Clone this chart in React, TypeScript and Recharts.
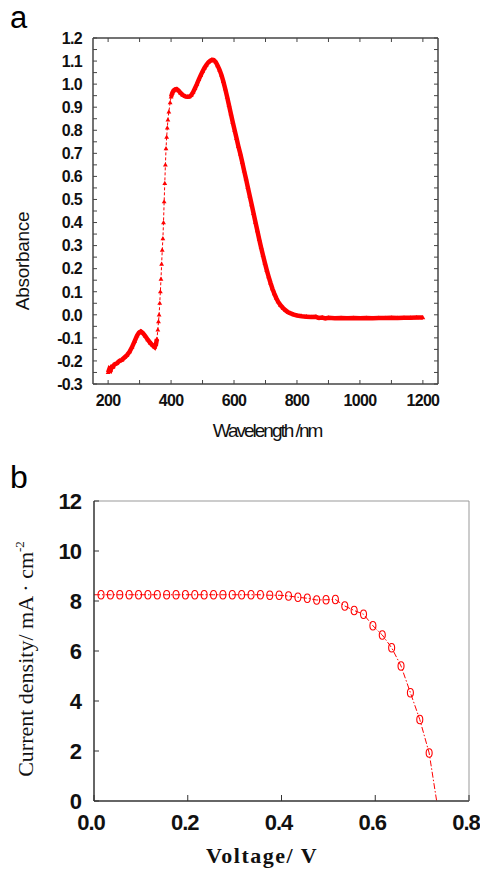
import React from 'react'
import { LineChart, Line, XAxis, YAxis } from 'recharts'

// panel a: absorption spectrum
const wavelength = [
  200, 204, 208, 212, 216, 220, 228, 236, 244, 252, 260, 268, 276, 284, 292, 298, 304, 310, 318, 326,
  334, 342, 348, 352, 355, 358, 360, 362, 364, 366, 368, 370, 372, 374, 376, 378, 380, 382, 384, 386,
  388, 390, 393, 397, 400, 404, 408, 413, 418, 424, 430, 437, 445, 452, 458, 464, 470, 476, 482, 488,
  494, 500, 506, 512, 518, 524, 530, 536, 542, 548, 554, 560, 566, 572, 578, 584, 590, 596, 602, 608,
  614, 620, 626, 632, 638, 644, 650, 656, 662, 668, 674, 680, 686, 692, 698, 704, 710, 716, 722, 728,
  734, 740, 748, 756, 764, 772, 780, 790, 800, 815, 830, 845, 860, 870, 880, 890, 900, 920, 940, 960,
  980, 1000, 1020, 1040, 1060, 1080, 1100, 1120, 1140, 1160, 1180, 1200,
]
const absorbance = [
  -0.25, -0.235, -0.24, -0.225, -0.225, -0.215, -0.21, -0.2, -0.195, -0.185, -0.175, -0.16, -0.14, -0.115, -0.09, -0.077, -0.072, -0.078, -0.092, -0.108,
  -0.122, -0.133, -0.14, -0.128, -0.105, -0.065, -0.03, 0.0, 0.05, 0.1, 0.155, 0.22, 0.28, 0.33, 0.4, 0.49, 0.57, 0.65, 0.72, 0.77,
  0.81, 0.845, 0.88, 0.92, 0.945, 0.962, 0.972, 0.977, 0.978, 0.972, 0.962, 0.953, 0.947, 0.945, 0.946, 0.952, 0.965, 0.982, 1.0, 1.02,
  1.038, 1.055, 1.07, 1.083, 1.094, 1.101, 1.105, 1.104, 1.096, 1.08, 1.062, 1.04, 1.012, 0.98, 0.945, 0.908, 0.872, 0.835, 0.8, 0.765,
  0.73, 0.698, 0.662, 0.625, 0.59, 0.552, 0.515, 0.478, 0.44, 0.402, 0.365, 0.328, 0.292, 0.258, 0.225, 0.194, 0.165, 0.138, 0.113, 0.092,
  0.073, 0.057, 0.041, 0.029, 0.019, 0.011, 0.006, 0.001, -0.003, -0.006, -0.008, -0.01, -0.009, -0.014, -0.012, -0.016, -0.013, -0.015, -0.014, -0.015,
  -0.014, -0.015, -0.014, -0.015, -0.014, -0.014, -0.013, -0.014, -0.013, -0.013, -0.012, -0.012,
]
const wavelengthTicks = [200, 300, 400, 500, 600, 700, 800, 900, 1000, 1100, 1200]
const absorbanceTicks = [
  -0.3, -0.25, -0.2, -0.15, -0.1, -0.05, 0, 0.05, 0.1, 0.15, 0.2, 0.25, 0.3, 0.35, 0.4, 0.45,
  0.5, 0.55, 0.6, 0.65, 0.7, 0.75, 0.8, 0.85, 0.9, 0.95, 1.0, 1.05, 1.1, 1.15, 1.2,
]

// panel b: J-V curve
const voltage = [
  0, 0.015, 0.035, 0.055, 0.075, 0.095, 0.115, 0.135, 0.155, 0.175, 0.195, 0.215, 0.235, 0.255, 0.275, 0.295, 0.315, 0.335, 0.355,
  0.375, 0.395, 0.415, 0.435, 0.455, 0.475, 0.495, 0.515, 0.535, 0.555, 0.575, 0.595, 0.615, 0.635, 0.655, 0.675, 0.695, 0.715, 0.731,
]
const currentDensity = [
  8.25, 8.25, 8.25, 8.25, 8.25, 8.25, 8.25, 8.25, 8.25, 8.25, 8.25, 8.25, 8.25, 8.25, 8.25, 8.25, 8.25, 8.25, 8.25,
  8.23, 8.23, 8.2, 8.15, 8.11, 8.04, 8.05, 8.06, 7.8, 7.62, 7.47, 7.01, 6.64, 6.13, 5.4, 4.33, 3.26, 1.92, 0,
]
const voltageTicks = [0, 0.2, 0.4, 0.6, 0.8]
const currentTicks = [0, 2, 4, 6, 8, 10, 12]

const RED = '#ff0000'
const AXIS = '#444'
const SANS = '"Liberation Sans", Arial, sans-serif'
const SERIF = '"Liberation Serif", "Times New Roman", serif'

const spectrum = wavelength.map((w, i) => ({
  w,
  a: absorbance[i],
  // dense part of the trace looks like a thick band, the steep rise is thin
  band: w < 356 || w > 398 ? absorbance[i] : null,
}))
const jv = voltage.map((v, i) => ({ v, j: currentDensity[i] }))

const isTenth = (v: number) => Math.abs(Math.round(v * 10) - v * 10) < 1e-6

function Tri(props: any) {
  const { cx, cy, index } = props
  if (cx == null || cy == null) return <g key={index} />
  return <path key={index} d={`M${cx},${cy - 2.6}L${cx + 2.4},${cy + 1.6}L${cx - 2.4},${cy + 1.6}Z`} fill={RED} />
}

function Ring(props: any) {
  const { cx, cy, index, payload } = props
  if (cx == null || payload.v === 0 || payload.j === 0) return <g key={index} />
  return <ellipse key={index} cx={cx} cy={cy} rx={3} ry={4.2} fill="none" stroke={RED} strokeWidth={1.1} />
}

const tickTextA = { fontFamily: SANS, fontWeight: 'bold' as const, fontSize: 16, letterSpacing: -0.7, fill: '#111' }
const tickTextB = { fontFamily: SANS, fontWeight: 'bold' as const, fontSize: 22, letterSpacing: -1, fill: '#111' }

function ABottomTick({ x, y, payload }: any) {
  const v = payload.value
  return (
    <g>
      <line x1={x} y1={y} x2={x} y2={y - 4} stroke={AXIS} />
      {v % 200 === 0 && <text x={x} y={y + 22} textAnchor="middle" {...tickTextA}>{v}</text>}
    </g>
  )
}
function ATopTick({ x, y }: any) {
  return <line x1={x} y1={y} x2={x} y2={y + 4} stroke={AXIS} />
}
function ALeftTick({ x, y, payload }: any) {
  const v = payload.value
  const major = isTenth(v)
  return (
    <g>
      <line x1={x} y1={y} x2={x + 4} y2={y} stroke={AXIS} />
      {major && <text x={x - 11} y={y + 5.8} textAnchor="end" {...tickTextA}>{(Math.abs(v) < 1e-9 ? 0 : v).toFixed(1)}</text>}
    </g>
  )
}
function ARightTick({ x, y }: any) {
  return <line x1={x} y1={y} x2={x - 4} y2={y} stroke={AXIS} />
}

function BBottomTick({ x, y, payload }: any) {
  return (
    <g>
      <line x1={x} y1={y} x2={x} y2={y - 6} stroke="#333" />
      <text x={x - 3} y={y + 29} textAnchor="middle" {...tickTextB}>{payload.value.toFixed(1)}</text>
    </g>
  )
}
function BLeftTick({ x, y, payload }: any) {
  return (
    <g>
      <line x1={x} y1={y} x2={x + 5} y2={y} stroke="#333" />
      <text x={x - 13} y={y + 7.8} textAnchor="end" {...tickTextB}>{payload.value}</text>
    </g>
  )
}

export default function App() {
  return (
    <div style={{ position: 'absolute', left: 0, top: 0, width: 480, height: 869, background: '#fff' }}>
      <div style={{ position: 'absolute', left: 10, top: 2, fontFamily: SANS, fontSize: 31, lineHeight: '31px' }}>a</div>
      <div style={{ position: 'absolute', left: 0, top: 0 }}>
        <LineChart width={480} height={450} data={spectrum} margin={{ top: 28, right: 32, bottom: 36, left: 53 }}>
          <XAxis
            dataKey="w" type="number" domain={[152, 1248]} ticks={wavelengthTicks} interval={0}
            allowDataOverflow height={30} tickSize={0} tickMargin={0} tickLine={false}
            axisLine={{ stroke: AXIS, strokeWidth: 1.5 }} tick={(p: any) => <ABottomTick {...p} />}
            label={(p: any) => (
              <text x={p.viewBox.x + p.viewBox.width / 2 + 1.5} y={p.viewBox.y + 53} textAnchor="middle"
                fontFamily={SANS} fontSize={19} letterSpacing={-2} fill="#111">Wavelength /nm</text>
            )}
          />
          <XAxis
            xAxisId="top" orientation="top" dataKey="w" type="number" domain={[152, 1248]} ticks={wavelengthTicks}
            interval={0} allowDataOverflow height={10} tickSize={0} tickMargin={0} tickLine={false}
            axisLine={{ stroke: AXIS, strokeWidth: 1.5 }} tick={(p: any) => <ATopTick {...p} />}
          />
          <YAxis
            type="number" domain={[-0.3, 1.2]} ticks={absorbanceTicks} interval={0} allowDataOverflow width={40}
            tickSize={0} tickMargin={0} tickLine={false} axisLine={{ stroke: AXIS, strokeWidth: 1.5 }}
            tick={(p: any) => <ALeftTick {...p} />}
            label={(p: any) => (
              <text transform={`translate(29, ${p.viewBox.y + p.viewBox.height / 2 + 50}) rotate(-90)`} textAnchor="middle"
                fontFamily={SANS} fontSize={19} letterSpacing={-0.3} fill="#111">Absorbance</text>
            )}
          />
          <YAxis
            yAxisId="right" orientation="right" type="number" domain={[-0.3, 1.2]} ticks={absorbanceTicks} interval={0}
            allowDataOverflow width={10} tickSize={0} tickMargin={0} tickLine={false}
            axisLine={{ stroke: AXIS, strokeWidth: 1.5 }} tick={(p: any) => <ARightTick {...p} />}
          />
          <Line dataKey="band" stroke={RED} strokeWidth={4.5} dot={false} connectNulls={false} isAnimationActive={false} />
          <Line dataKey="a" stroke={RED} strokeWidth={1} strokeDasharray="3 2" dot={<Tri />} isAnimationActive={false} />
        </LineChart>
      </div>

      <div style={{ position: 'absolute', left: 10, top: 461, fontFamily: SANS, fontSize: 32, lineHeight: '32px' }}>b</div>
      <div style={{ position: 'absolute', left: 0, top: 440 }}>
        <LineChart width={480} height={429} data={jv} margin={{ top: 56, right: 6, bottom: 38, left: 54 }}>
          <XAxis
            dataKey="v" type="number" domain={[0, 0.8]} ticks={voltageTicks} interval={0} allowDataOverflow
            height={30} tickSize={0} tickMargin={0} tickLine={false} axisLine={{ stroke: '#333', strokeWidth: 1.5 }}
            tick={(p: any) => <BBottomTick {...p} />}
            label={(p: any) => (
              <text x={262} y={p.viewBox.y + 62} textAnchor="middle" fontFamily={SERIF} fontWeight="bold"
                fontSize={22} letterSpacing={1.5} fill="#111">Voltage/ V</text>
            )}
          />
          <XAxis
            xAxisId="top" orientation="top" dataKey="v" type="number" domain={[0, 0.8]} height={5}
            tick={false} tickLine={false} axisLine={{ stroke: '#999' }}
          />
          <YAxis
            type="number" domain={[0, 12]} ticks={currentTicks} interval={0} allowDataOverflow width={40}
            tickSize={0} tickMargin={0} tickLine={false} axisLine={{ stroke: '#333', strokeWidth: 1.5 }}
            tick={(p: any) => <BLeftTick {...p} />}
            label={(p: any) => (
              <text transform={`translate(33, ${p.viewBox.y + p.viewBox.height / 2 + 8}) rotate(-90)`} textAnchor="middle"
                fontFamily={SERIF} fontSize={22} fill="#111">
                Current density/ mA · cm<tspan dy={-9} fontSize={13}>-2</tspan>
              </text>
            )}
          />
          <YAxis
            yAxisId="right" orientation="right" type="number" domain={[0, 12]} width={5}
            tick={false} tickLine={false} axisLine={{ stroke: '#999' }}
          />
          <Line dataKey="j" stroke={RED} strokeWidth={1} strokeDasharray="6 2 1.5 2" dot={<Ring />} isAnimationActive={false} />
        </LineChart>
      </div>
    </div>
  )
}
